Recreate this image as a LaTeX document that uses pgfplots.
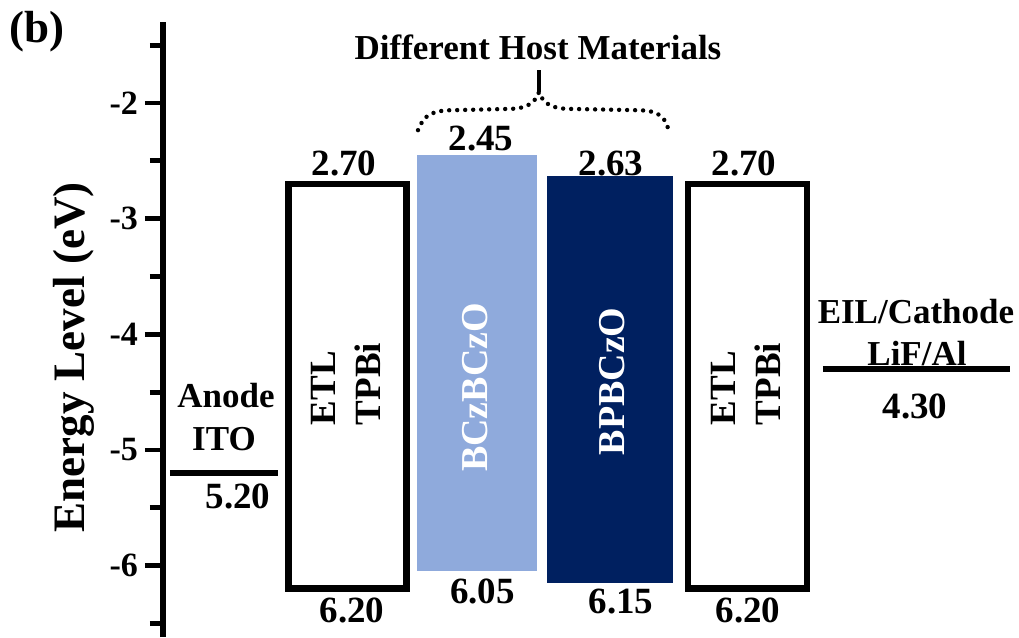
\documentclass[border=0pt]{standalone}
\usepackage{pgfplots}
\pgfplotsset{compat=1.18}
\usepackage{fontspec}
\setmainfont{Liberation Serif}[BoldFont={Liberation Serif Bold}]
\newfontfamily\timesbold{Liberation Serif Bold}
\definecolor{hostlight}{HTML}{8FAADC}
\definecolor{hostdark}{HTML}{002060}

\tikzset{
  txt/.style={font=\fontsize{17.5}{21}\selectfont\timesbold, inner sep=0pt},
  val/.style={font=\fontsize{18.5}{22}\selectfont\timesbold, inner sep=0pt, anchor=base},
  lvl/.style={line width=2.6pt, black},
  box/.style={line width=3.3pt, black, line join=miter},
}

\begin{document}
\begin{tikzpicture}
\begin{axis}[
  scale only axis, width=428pt, height=307.5pt,
  xmin=163, xmax=1019, ymin=-6.62, ymax=-1.30,
  axis x line=none, axis y line=left,
  axis line style={-, line width=2.8pt},
  every outer y axis line/.append style={-},
  ytick={-6,-5,-4,-3,-2}, yticklabels={-6,-5,-4,-3,-2},
  minor ytick={-6.5,-5.5,-4.5,-3.5,-2.5,-1.5},
  tick align=outside, major tick length=9pt, minor tick length=6.5pt,
  tick style={line width=2.4pt, black},
  yticklabel style={font=\fontsize{17}{20}\selectfont\timesbold},
  clip=false,
]
% host layers (filled)
\addplot[draw=none, fill=hostlight] coordinates {(416.7,-2.45) (537,-2.45) (537,-6.05) (416.7,-6.05)} -- cycle;
\addplot[draw=none, fill=hostdark] coordinates {(547.3,-2.63) (673.3,-2.63) (673.3,-6.15) (547.3,-6.15)} -- cycle;
% transport layers (outlined)
\addplot[box, fill=white] coordinates {(288.5,-2.70) (406.5,-2.70) (406.5,-6.20) (288.5,-6.20)} -- cycle;
\addplot[box, fill=white] coordinates {(688,-2.70) (807,-2.70) (807,-6.20) (688,-6.20)} -- cycle;
% electrode work functions
\addplot[lvl] coordinates {(170,-5.20) (278,-5.20)};
\addplot[lvl] coordinates {(823,-4.30) (1010,-4.30)};

% energy values
\node[val] at (axis cs:344,-2.623) {2.70};
\node[val] at (axis cs:481,-2.407) {2.45};
\node[val] at (axis cs:611,-2.623) {2.63};
\node[val] at (axis cs:744,-2.623) {2.70};
\node[val] at (axis cs:352,-6.491) {6.20};
\node[val] at (axis cs:482.5,-6.332) {6.05};
\node[val] at (axis cs:621,-6.419) {6.15};
\node[val] at (axis cs:748,-6.491) {6.20};
\node[val] at (axis cs:238,-5.506) {5.20};
\node[val] at (axis cs:915,-4.727) {4.30};

% electrode names
\node[txt, anchor=base] at (axis cs:226,-4.629) {Anode};
\node[txt, anchor=base] at (axis cs:224,-5.004) {ITO};
\node[txt, anchor=base] at (axis cs:916,-3.905) {EIL/Cathode};
\node[txt, anchor=base] at (axis cs:917,-4.268) {LiF/Al};

% layer names
\node[font=\fontsize{18.5}{22.5}\selectfont\timesbold, rotate=90, align=left, inner sep=0pt] at (axis cs:345.5,-4.429) {ETL\\TPBi};
\node[font=\fontsize{18.5}{22.5}\selectfont\timesbold, rotate=90, align=left, inner sep=0pt] at (axis cs:746,-4.429) {ETL\\TPBi};
\node[font=\fontsize{19}{22}\selectfont\timesbold, rotate=90, text=white, inner sep=0pt] at (axis cs:475,-4.459) {BCzBCzO};
\node[font=\fontsize{19}{22}\selectfont\timesbold, rotate=90, text=white, inner sep=0pt] at (axis cs:612,-4.407) {BPBCzO};

% host materials brace
\draw[line width=2.2pt, line cap=round, dash pattern=on 0pt off 4pt]
  (axis cs:418,-2.234) .. controls (axis cs:424,-2.10) and (axis cs:432,-2.061) .. (axis cs:455,-2.061)
  -- (axis cs:510,-2.050) .. controls (axis cs:527,-2.046) and (axis cs:535,-2.00) .. (axis cs:539,-1.905)
  .. controls (axis cs:543,-2.00) and (axis cs:551,-2.046) .. (axis cs:568,-2.050)
  -- (axis cs:635,-2.061) .. controls (axis cs:656,-2.061) and (axis cs:664,-2.10) .. (axis cs:668,-2.216);
\draw[line width=1.6pt] (axis cs:539,-1.905) -- (axis cs:539,-1.714);
\node[txt] at (axis cs:538,-1.52) {Different Host Materials};

% axis title and panel tag
\node[font=\fontsize{22.5}{26}\selectfont\timesbold, rotate=90, inner sep=0pt] at (axis cs:74,-4.20) {Energy Level (eV)};
\node[font=\fontsize{22.5}{26}\selectfont\timesbold, inner sep=0pt] at (axis cs:37,-1.385) {(b)};

\coordinate (bbTL) at (axis cs:0,-1.108);
\coordinate (bbBR) at (axis cs:1019,-6.62);
\end{axis}
\pgfresetboundingbox
\useasboundingbox (bbTL) rectangle (bbBR);
\end{tikzpicture}
\end{document}
